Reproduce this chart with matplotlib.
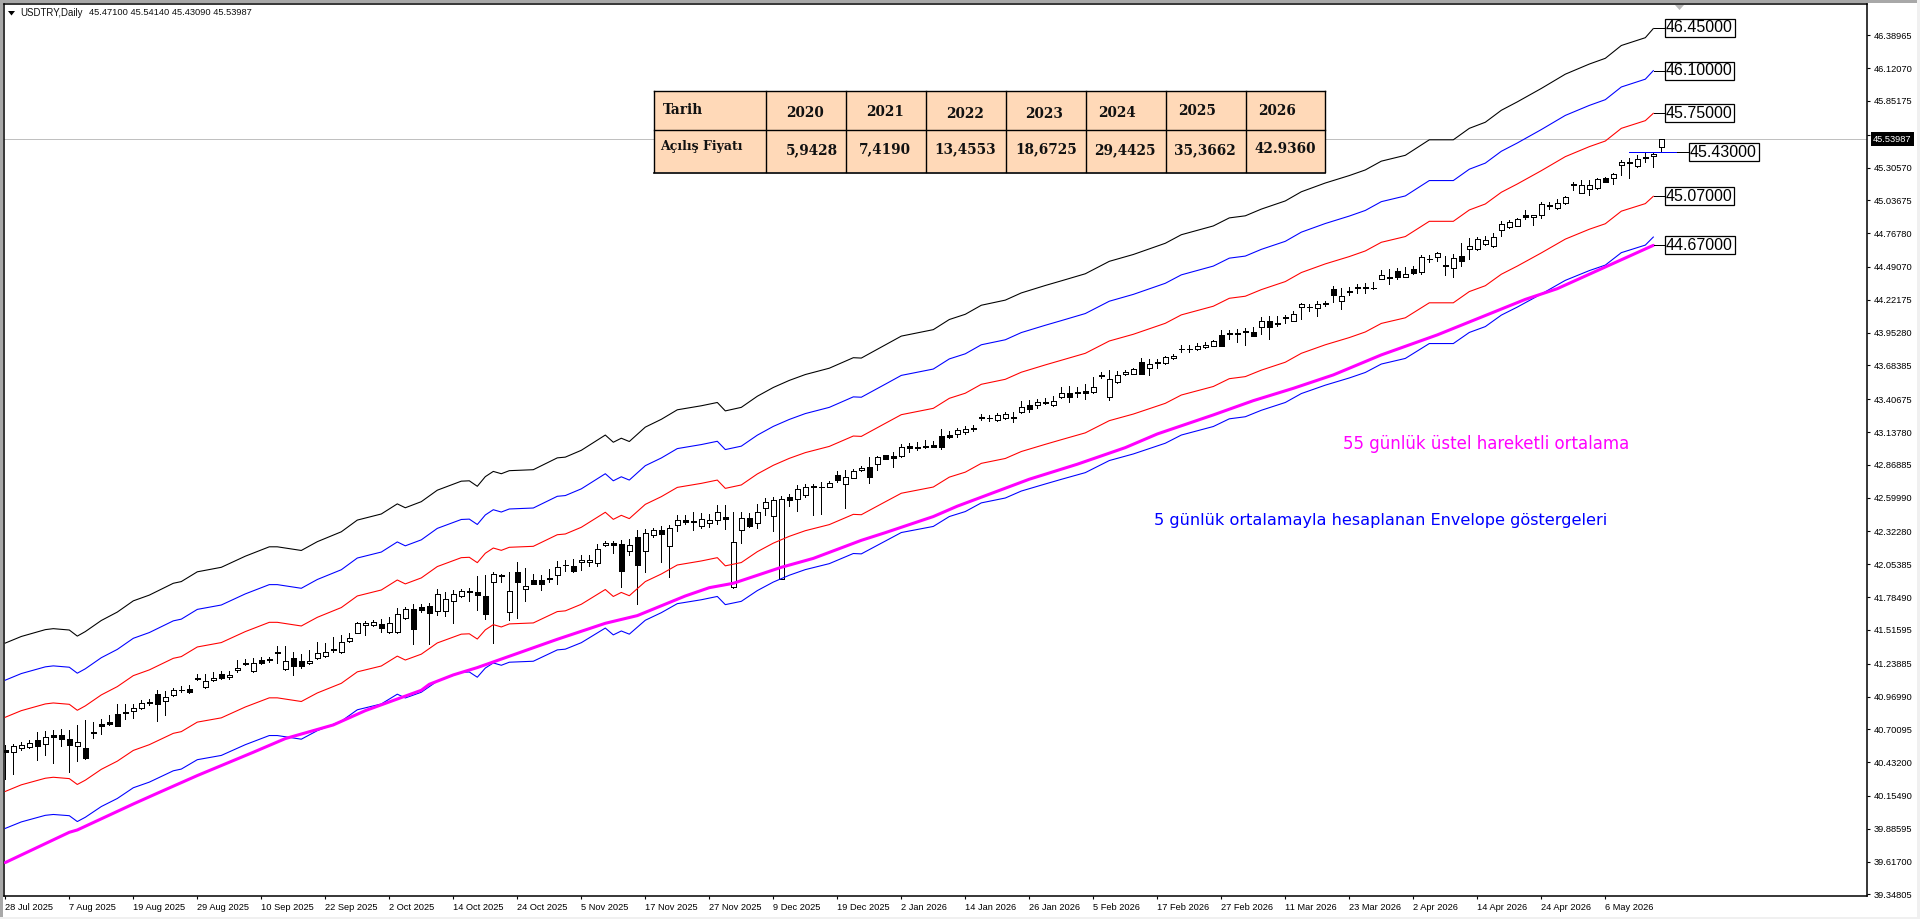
import numpy as np
import matplotlib
matplotlib.use('Agg')
import matplotlib.pyplot as plt
from matplotlib.patches import Rectangle, Polygon

# Daily candles, bar 0 = 28 Jul 2025
opens = [40.529,40.513,40.546,40.554,40.614,40.579,40.655,40.652,40.619,40.562,
         40.546,40.674,40.745,40.762,40.824,40.838,40.854,40.879,40.925,40.988,
         40.931,40.983,41.021,41.029,41.119,41.046,41.103,41.152,41.128,41.185,
         41.245,41.177,41.267,41.275,41.332,41.193,41.283,41.259,41.242,41.283,
         41.300,41.354,41.332,41.423,41.494,41.556,41.554,41.567,41.496,41.496,
         41.611,41.685,41.704,41.712,41.671,41.669,41.750,41.797,41.827,41.824,
         41.794,41.911,41.966,41.660,41.988,41.848,41.925,41.922,41.936,41.963,
         42.045,42.037,42.070,42.070,42.062,42.209,42.225,42.217,42.165,42.275,
         42.160,42.291,42.332,42.201,42.373,42.414,42.403,42.365,42.395,42.414,
         42.439,41.865,42.332,42.430,42.389,42.512,42.447,41.936,42.605,42.586,
         42.624,42.684,42.684,42.690,42.783,42.714,42.764,42.824,42.848,42.878,
         42.947,42.939,42.939,43.020,43.009,43.012,43.029,43.102,43.113,43.122,
         43.136,43.166,43.262,43.251,43.234,43.251,43.253,43.300,43.357,43.363,
         43.382,43.357,43.428,43.455,43.464,43.472,43.464,43.606,43.428,43.551,
         43.611,43.617,43.710,43.666,43.704,43.701,43.742,43.816,43.816,43.816,
         43.833,43.846,43.931,43.939,43.942,43.955,43.955,43.996,44.046,44.027,
         44.073,44.051,44.166,44.160,44.152,44.196,44.311,44.210,44.292,44.316,
         44.316,44.316,44.395,44.398,44.461,44.412,44.472,44.453,44.559,44.570,
         44.510,44.485,44.578,44.636,44.636,44.682,44.661,44.797,44.818,44.829,
         44.914,44.903,44.919,44.993,44.977,45.012,45.160,45.100,45.133,45.135,
         45.217,45.220,45.324,45.340,45.316,45.381,45.397,45.471]
closes = [40.518,40.565,40.570,40.587,40.568,40.636,40.641,40.625,40.576,40.595,
          40.469,40.680,40.731,40.742,40.731,40.843,40.873,40.914,40.914,40.906,
          40.969,41.021,41.024,41.007,41.111,41.100,41.119,41.119,41.144,41.201,
          41.234,41.248,41.248,41.267,41.324,41.264,41.218,41.218,41.264,41.330,
          41.338,41.360,41.420,41.447,41.570,41.570,41.578,41.535,41.570,41.644,
          41.685,41.521,41.682,41.658,41.813,41.772,41.808,41.832,41.835,41.805,
          41.646,41.974,41.955,41.832,41.911,41.873,41.895,41.895,41.941,42.034,
          42.051,41.996,42.086,42.086,42.182,42.225,42.209,42.001,42.209,42.051,
          42.307,42.332,42.305,42.348,42.414,42.400,42.409,42.428,42.419,42.480,
          42.422,42.234,42.430,42.370,42.480,42.561,42.578,42.586,42.583,42.668,
          42.684,42.693,42.690,42.723,42.747,42.766,42.816,42.840,42.772,42.930,
          42.917,42.922,43.012,43.009,43.018,43.020,43.015,43.018,43.100,43.152,
          43.163,43.171,43.251,43.256,43.278,43.286,43.259,43.346,43.330,43.382,
          43.374,43.390,43.455,43.428,43.455,43.455,43.505,43.598,43.570,43.603,
          43.628,43.652,43.617,43.693,43.712,43.756,43.759,43.822,43.822,43.841,
          43.849,43.882,43.846,43.947,43.947,43.964,43.928,44.051,44.002,44.035,
          44.081,44.103,44.185,44.166,44.185,44.185,44.264,44.251,44.283,44.324,
          44.324,44.322,44.423,44.406,44.412,44.431,44.439,44.570,44.554,44.603,
          44.499,44.562,44.543,44.661,44.717,44.709,44.734,44.840,44.857,44.881,
          44.903,44.919,45.007,45.001,45.015,45.067,45.168,45.160,45.165,45.212,
          45.187,45.255,45.351,45.348,45.373,45.389,45.414,45.53987]
highs = [40.573,40.579,40.598,40.614,40.680,40.691,40.696,40.704,40.696,40.737,
         40.778,40.762,40.786,40.819,40.909,40.909,40.909,40.942,40.950,41.024,
         41.016,41.037,41.057,41.062,41.155,41.155,41.169,41.177,41.182,41.270,
         41.275,41.283,41.294,41.297,41.384,41.384,41.335,41.319,41.352,41.414,
         41.406,41.461,41.475,41.488,41.581,41.592,41.595,41.603,41.619,41.696,
         41.701,41.729,41.726,41.734,41.849,41.824,41.843,41.849,41.857,41.958,
         41.966,41.988,41.971,41.988,42.070,42.023,41.974,41.966,42.015,42.081,
         42.089,42.100,42.130,42.130,42.217,42.242,42.247,42.250,42.261,42.335,
         42.340,42.354,42.368,42.376,42.458,42.460,42.480,42.477,42.463,42.542,
         42.542,42.480,42.480,42.477,42.548,42.600,42.602,42.613,42.630,42.701,
         42.712,42.712,42.728,42.739,42.816,42.824,42.832,42.859,42.933,42.944,
         42.952,42.974,43.040,43.051,43.053,43.070,43.067,43.163,43.149,43.173,
         43.185,43.193,43.283,43.278,43.292,43.303,43.305,43.393,43.401,43.406,
         43.417,43.431,43.507,43.516,43.505,43.529,43.589,43.633,43.644,43.639,
         43.647,43.663,43.745,43.734,43.737,43.762,43.778,43.849,43.849,43.865,
         43.874,43.893,43.975,43.972,43.980,43.991,43.999,44.081,44.089,44.089,
         44.095,44.128,44.193,44.190,44.215,44.215,44.333,44.316,44.324,44.349,
         44.357,44.365,44.466,44.475,44.480,44.488,44.499,44.587,44.587,44.611,
         44.581,44.595,44.685,44.726,44.734,44.745,44.766,44.865,44.876,44.892,
         44.955,44.919,45.026,45.026,45.051,45.072,45.190,45.201,45.204,45.217,
         45.225,45.261,45.367,45.384,45.411,45.428,45.428,45.5414]
lows = [40.291,40.335,40.532,40.551,40.450,40.491,40.428,40.568,40.354,40.445,
        40.461,40.633,40.663,40.740,40.729,40.789,40.797,40.865,40.903,40.772,
        40.822,40.975,41.007,41.002,41.106,41.043,41.095,41.114,41.117,41.171,
        41.231,41.174,41.237,41.251,41.242,41.190,41.149,41.201,41.240,41.275,
        41.297,41.335,41.330,41.420,41.488,41.477,41.548,41.496,41.494,41.494,
        41.608,41.403,41.660,41.403,41.641,41.633,41.576,41.786,41.750,41.682,
        41.608,41.409,41.909,41.597,41.616,41.756,41.892,41.846,41.906,41.895,
        42.001,41.993,42.010,42.040,42.042,42.206,42.144,41.868,42.127,41.725,
        41.993,42.275,42.075,41.952,42.329,42.384,42.337,42.348,42.362,42.387,
        42.343,41.862,42.231,42.357,42.354,42.455,42.329,41.933,42.534,42.493,
        42.608,42.455,42.469,42.684,42.728,42.518,42.758,42.821,42.723,42.829,
        42.914,42.854,42.936,42.971,42.990,43.009,43.012,43.001,43.092,43.100,
        43.125,43.147,43.237,43.226,43.232,43.248,43.218,43.297,43.305,43.333,
        43.368,43.354,43.417,43.387,43.428,43.412,43.461,43.581,43.404,43.537,
        43.609,43.614,43.611,43.609,43.660,43.699,43.740,43.797,43.794,43.813,
        43.830,43.843,43.841,43.904,43.879,43.854,43.925,43.945,43.904,44.008,
        44.035,44.046,44.067,44.133,44.092,44.171,44.204,44.149,44.264,44.275,
        44.281,44.313,44.390,44.354,44.395,44.406,44.434,44.436,44.529,44.540,
        44.425,44.411,44.501,44.556,44.633,44.674,44.658,44.747,44.813,44.827,
        44.881,44.835,44.895,44.969,44.969,45.010,45.122,45.094,45.078,45.133,
        45.184,45.174,45.245,45.223,45.313,45.354,45.313,45.4309]

# Envelope lines, read at these bars
env_bars = [0,2,5,6,8,9,10,12,14,16,18,21,22,24,27,30,33,34,37,39,42,44,47,49,50,52,54,57,58,59,
            60,61,62,63,66,69,70,72,75,76,77,78,80,82,84,87,89,90,92,94,96,98,100,103,106,107,110,112,116,118,
            120,122,125,127,130,132,135,138,141,145,147,151,153,155,157,160,162,165,168,170,172,175,178,181,183,185,187,189,192,195,
            198,200,202,205,206]
env_black = [41.408,41.462,41.518,41.526,41.515,41.465,41.502,41.593,41.662,41.754,41.801,41.898,41.912,41.992,42.029,42.120,42.197,42.197,42.167,42.239,42.320,42.416,42.466,42.549,42.517,42.567,42.661,42.735,42.738,42.693,
             42.772,42.815,42.796,42.821,42.829,42.926,42.932,42.988,43.113,43.054,43.087,43.060,43.178,43.242,43.320,43.353,43.380,43.311,43.340,43.431,43.503,43.561,43.609,43.661,43.747,43.744,43.852,43.924,43.977,44.060,
             44.103,44.177,44.219,44.278,44.339,44.377,44.435,44.537,44.593,44.685,44.755,44.827,44.893,44.910,44.965,45.032,45.107,45.179,45.240,45.286,45.358,45.406,45.533,45.533,45.627,45.677,45.775,45.844,45.954,46.071,
             46.154,46.201,46.306,46.370,46.445]
env_blue_up = [41.104,41.158,41.213,41.221,41.210,41.161,41.197,41.288,41.356,41.447,41.494,41.590,41.604,41.684,41.720,41.811,41.887,41.887,41.857,41.929,42.009,42.105,42.154,42.237,42.205,42.254,42.348,42.421,42.424,42.380,
               42.458,42.501,42.482,42.507,42.515,42.611,42.617,42.672,42.796,42.738,42.771,42.744,42.862,42.925,43.002,43.035,43.062,42.994,43.022,43.112,43.184,43.241,43.289,43.340,43.426,43.423,43.530,43.602,43.654,43.737,
               43.779,43.853,43.894,43.953,44.013,44.051,44.109,44.210,44.266,44.357,44.426,44.498,44.563,44.580,44.635,44.701,44.776,44.847,44.908,44.954,45.026,45.073,45.199,45.199,45.292,45.342,45.439,45.507,45.617,45.733,
               45.815,45.862,45.966,46.030,46.100]
env_red_up = [40.800,40.854,40.909,40.917,40.906,40.857,40.893,40.983,41.051,41.141,41.188,41.283,41.297,41.376,41.412,41.502,41.578,41.578,41.548,41.619,41.699,41.794,41.843,41.925,41.893,41.942,42.035,42.108,42.111,42.067,
              42.144,42.187,42.168,42.193,42.201,42.296,42.302,42.357,42.480,42.422,42.455,42.428,42.545,42.608,42.684,42.717,42.744,42.676,42.704,42.794,42.865,42.922,42.969,43.020,43.105,43.102,43.209,43.280,43.332,43.414,
              43.456,43.529,43.570,43.628,43.688,43.726,43.783,43.884,43.939,44.029,44.098,44.169,44.234,44.251,44.305,44.371,44.445,44.516,44.576,44.622,44.693,44.740,44.865,44.865,44.958,45.007,45.103,45.171,45.280,45.395,
              45.477,45.523,45.627,45.690,45.750]
env_red_low = [40.192,40.246,40.300,40.308,40.297,40.249,40.284,40.373,40.440,40.528,40.575,40.668,40.682,40.760,40.795,40.884,40.959,40.959,40.929,40.999,41.078,41.172,41.220,41.301,41.269,41.317,41.409,41.481,41.484,41.441,
               41.516,41.559,41.540,41.565,41.573,41.666,41.672,41.726,41.847,41.790,41.823,41.796,41.912,41.974,42.048,42.081,42.108,42.041,42.068,42.157,42.227,42.283,42.329,42.379,42.463,42.460,42.566,42.636,42.687,42.768,
               42.809,42.881,42.921,42.978,43.037,43.075,43.131,43.231,43.285,43.373,43.441,43.511,43.575,43.592,43.645,43.710,43.783,43.853,43.912,43.958,44.028,44.074,44.197,44.197,44.289,44.337,44.431,44.498,44.606,44.719,
               44.800,44.845,44.948,45.010,45.070]
env_blue_low = [39.889,39.942,39.996,40.003,39.993,39.945,39.980,40.068,40.134,40.222,40.268,40.361,40.375,40.452,40.487,40.575,40.650,40.650,40.620,40.690,40.768,40.861,40.909,40.989,40.958,41.005,41.096,41.168,41.171,41.128,
                41.203,41.245,41.226,41.251,41.259,41.352,41.358,41.411,41.531,41.475,41.507,41.481,41.595,41.657,41.731,41.763,41.790,41.723,41.750,41.838,41.908,41.964,42.010,42.059,42.142,42.139,42.244,42.314,42.364,42.445,
                42.486,42.557,42.597,42.654,42.712,42.750,42.805,42.904,42.958,43.046,43.113,43.183,43.246,43.263,43.316,43.380,43.453,43.522,43.581,43.626,43.695,43.741,43.863,43.863,43.954,44.002,44.096,44.162,44.269,44.381,
                44.461,44.506,44.608,44.670,44.736]

ema_bars = [0,8,9,16,19,24,31,35,41,45,52,53,56,59,69,75,79,85,88,91,97,101,107,110,116,119,128,134,140,144,151,156,161,166,172,179,190,194,206]
ema_55 = [39.609,39.857,39.876,40.089,40.177,40.322,40.513,40.625,40.737,40.854,41.021,41.070,41.147,41.207,41.439,41.570,41.633,41.794,41.862,41.898,42.029,42.102,42.250,42.313,42.445,42.530,42.751,42.874,43.010,43.122,43.278,43.395,43.496,43.606,43.770,43.934,44.225,44.313,44.668]

# Level boxes on the right
levels = [46.45, 46.10, 45.75, 45.07, 44.67]
mid_level = 45.43
last_price = 45.53987

ytick_vals = [46.38965,46.12070,45.85175,45.57465,45.30570,45.03675,44.76780,44.49070,44.22175,
              43.95280,43.68385,43.40675,43.13780,42.86885,42.59990,42.32280,42.05385,41.78490,
              41.51595,41.23885,40.96990,40.70095,40.43200,40.15490,39.88595,39.61700,39.34805]
date_labels = ['28 Jul 2025','7 Aug 2025','19 Aug 2025','29 Aug 2025','10 Sep 2025','22 Sep 2025','2 Oct 2025',
               '14 Oct 2025','24 Oct 2025','5 Nov 2025','17 Nov 2025','27 Nov 2025','9 Dec 2025','19 Dec 2025',
               '2 Jan 2026','14 Jan 2026','26 Jan 2026','5 Feb 2026','17 Feb 2026','27 Feb 2026','11 Mar 2026',
               '23 Mar 2026','2 Apr 2026','14 Apr 2026','24 Apr 2026','6 May 2026']

# Table
table_years = ['2020','2021','2022','2023','2024','2025','2026']
table_prices = ['5,9428','7,4190','13,4553','18,6725','29,4425','35,3662','42.9360']

plt.rcParams['font.family'] = ['Liberation Sans', 'DejaVu Sans']

W, H = 1920, 919
fig = plt.figure(figsize=(W / 100, H / 100), dpi=100, facecolor='white')

# chart frame in pixels: x 4..1867, y 4..896
ax = fig.add_axes([4 / W, 1 - 896 / H, (1867 - 4) / W, (896 - 4) / H])
ax.set_xlim(-0.1625, 232.71)
ax.set_ylim(46.679 - 896 / 122, 46.679 - 4 / 122)

x = np.arange(len(opens))
o, h, l, c = map(np.array, (opens, highs, lows, closes))
up = c >= o
body_low = np.minimum(o, c)
body_h = np.abs(c - o)

thin = 0.55
ax.axhline(last_price, color='#c0c0c0', lw=thin, zorder=1, antialiased=False)
ax.vlines(x, l, h, color='black', lw=thin, zorder=2, antialiased=False)
ax.bar(x[up], body_h[up], bottom=body_low[up], width=0.6, facecolor='white', edgecolor='black', lw=thin, zorder=3, antialiased=False)
ax.bar(x[~up], body_h[~up], bottom=body_low[~up], width=0.6, facecolor='black', edgecolor='black', lw=thin, zorder=3, antialiased=False)

line_kw = dict(lw=0.78, zorder=4, solid_joinstyle='round')
ax.plot(env_bars, env_black, color='black', **line_kw)
ax.plot(env_bars, env_blue_up, color='#0000ff', **line_kw)
ax.plot(env_bars, env_red_up, color='#ff0000', **line_kw)
ax.plot(env_bars, env_red_low, color='#ff0000', **line_kw)
ax.plot(env_bars, env_blue_low, color='#0000ff', **line_kw)
ax.plot(ema_bars, ema_55, color='#ff00ff', lw=2.2, zorder=5, solid_capstyle='round')

# level boxes with leader lines
box_font = dict(fontsize=11.5, color='black', va='center', ha='left', zorder=7,
                bbox=dict(boxstyle='square,pad=0.1', fc='white', ec='black', lw=0.9))
for lev in levels:
    ax.hlines(lev, 206.1, 207.4, color='black', lw=thin, zorder=6, antialiased=False)
    ax.text(207.6, lev, f'{lev:.5f}', **box_font)
ax.hlines(mid_level, 203, 209, color='#0000ff', lw=thin, zorder=6, antialiased=False)
ax.hlines(mid_level, 209, 210.4, color='black', lw=thin, zorder=6, antialiased=False)
ax.text(210.6, mid_level, f'{mid_level:.5f}', **box_font)

# axes look
for s in ax.spines.values():
    s.set_linewidth(1.1)
    s.set_color('black')
ax.yaxis.tick_right()
ax.set_yticks(ytick_vals)
ax.set_yticklabels([f'{v:.5f}' for v in ytick_vals], fontsize=6.7)
ax.tick_params(axis='y', length=2.2, width=0.8, pad=2.6)
ax.set_xticks(np.arange(len(date_labels)) * 8)
ax.set_xticklabels(date_labels, fontsize=6.7, ha='left')
ax.tick_params(axis='x', length=2.5, width=0.8, pad=2.5)

# overlay in pixel coordinates for the window parts, notes and table
ov = fig.add_axes([0, 0, 1, 1], zorder=10)
ov.set_xlim(0, W)
ov.set_ylim(H, 0)
ov.axis('off')
ov.patch.set_alpha(0)

ov.add_patch(Rectangle((0, 0), W, 2.5, fc='#a8a8a8', ec='none'))
ov.add_patch(Rectangle((0, 0), 2.5, H, fc='#a8a8a8', ec='none'))
ov.add_patch(Rectangle((0, 917), W, 2, fc='#f0f0f0', ec='none'))
ov.add_patch(Rectangle((1917, 0), 3, H, fc='#f0f0f0', ec='none'))

ov.add_patch(Polygon([(8, 11), (15, 11), (11.5, 15.5)], fc='black', ec='none'))
ov.text(20, 12.5, 'USDTRY,Daily', fontsize=6.9, va='center', ha='left', color='#101010')
ov.text(89, 12.5, '45.47100 45.54140 45.43090 45.53987', fontsize=6.7, va='center', ha='left', color='#101010')
ov.add_patch(Polygon([(1675, 5), (1684, 5), (1679.5, 10)], fc='#b8b8b8', ec='none'))

ov.text(1873, 139.3, f'{last_price:.5f}', fontsize=6.7, color='white', va='center', ha='left',
        bbox=dict(boxstyle='square,pad=0.25', fc='black', ec='none'))

ov.text(1343, 449, '55 günlük üstel hareketli ortalama', fontsize=12, family='DejaVu Sans', color='#ff00ff', va='baseline', ha='left')
ov.text(1153.5, 525, '5 günlük ortalamayla hesaplanan Envelope göstergeleri', fontsize=11.65, family='DejaVu Sans', color='#0000ff', va='baseline', ha='left')

# table
tl, tr, tt, tm, tb = 653.5, 1325, 90.5, 129.5, 171.5
col_x = [765.5, 845.5, 925.5, 1005.5, 1085.5, 1165.5, 1245.5]
ov.add_patch(Rectangle((tl, tt), tr - tl, tb - tt, fc='#ffd9b8', ec='none'))
ov.plot([tl, tr], [tt, tt], color='black', lw=1.0)
ov.plot([tl, tr], [tm, tm], color='black', lw=1.0)
ov.plot([tl, tr], [tb + 1, tb + 1], color='black', lw=1.2)
ov.plot([tl, tl], [tt, tb], color='black', lw=1.0)
ov.plot([tr, tr], [tt, tb], color='black', lw=1.0)
for cx in col_x:
    ov.plot([cx, cx], [tt, tb], color='black', lw=1.0)
tfont = dict(family='DejaVu Serif', fontweight='bold', fontsize=9.8, color='#111111', va='center')
year_cx = [805, 885, 965, 1044, 1117, 1197, 1277]
year_cy = [113.3, 112, 113.7, 114, 112.7, 111, 111]
price_cx = [812, 885, 965, 1046, 1125, 1205, 1285]
price_cy = [150, 149, 149, 149, 150, 150.7, 149]
ov.text(663, 110, 'Tarih', ha='left', **tfont)
ov.text(660, 146.7, 'Açılış Fiyatı', ha='left', **{**tfont, 'fontsize': 9.0})
for s, cx, cy in zip(table_years, year_cx, year_cy):
    ov.text(cx, cy, s, ha='center', **tfont)
for s, cx, cy in zip(table_prices, price_cx, price_cy):
    ov.text(cx, cy, s, ha='center', **tfont)

fig.savefig('out.png', dpi=100)
